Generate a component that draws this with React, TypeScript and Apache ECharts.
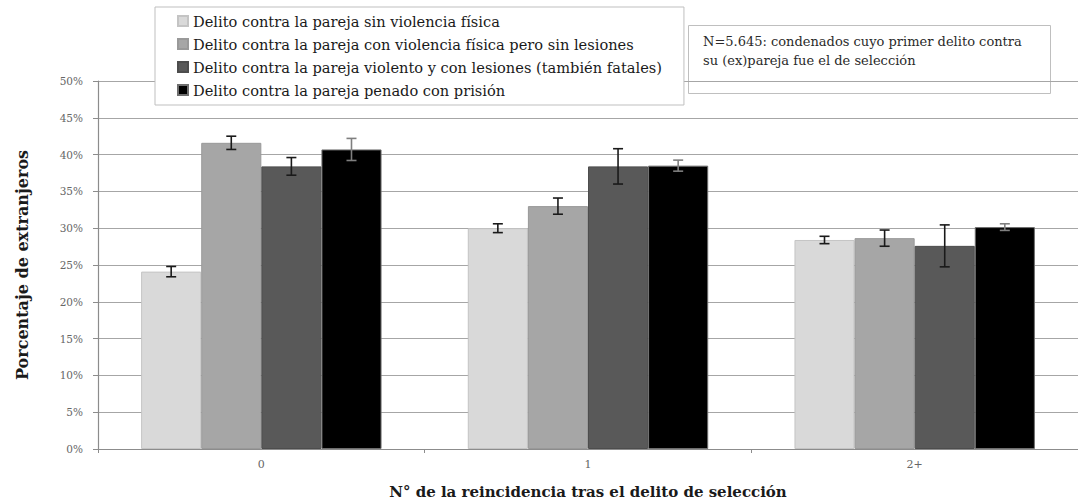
import React, { useEffect, useRef } from "react";
import * as echarts from "echarts";

// Categories: number of reoffences after the selection offence
const categories = ["0", "1", "2+"];

const seriesNames = [
  "Delito contra la pareja sin violencia física",
  "Delito contra la pareja con violencia física pero sin lesiones",
  "Delito contra la pareja violento y con lesiones (también fatales)",
  "Delito contra la pareja penado con prisión",
];

// Percentage of foreigners per group (%)
const sinViolencia = [24.1, 30.0, 28.4];
const conViolencia = [41.6, 33.0, 28.65];
const conLesiones = [38.4, 38.4, 27.6];
const conPrision = [40.7, 38.5, 30.15];

// Half-width of the error bars (percentage points)
const errSinViolencia = [0.7, 0.6, 0.5];
const errConViolencia = [0.9, 1.1, 1.1];
const errConLesiones = [1.2, 2.4, 2.85];
const errConPrision = [1.5, 0.75, 0.45];

const yTicks = [0, 5, 10, 15, 20, 25, 30, 35, 40, 45, 50];

const noteLines = [
  "N=5.645: condenados cuyo primer delito contra",
  "su (ex)pareja fue el de selección",
];

const values = [sinViolencia, conViolencia, conLesiones, conPrision];
const errors = [errSinViolencia, errConViolencia, errConLesiones, errConPrision];
const fills = ["#d9d9d9", "#a6a6a6", "#595959", "#000000"];
const borders = ["#c4c4c4", "#999999", "#4d4d4d", "#6e6e6e"];
const errColors = ["#1a1a1a", "#1a1a1a", "#1a1a1a", "#7f7f7f"];
const CATEGORY_GAP = 0.264;
const SERIF = "'DejaVu Serif', 'Liberation Serif', serif";

export default function App() {
  const ref = useRef<HTMLDivElement>(null);

  useEffect(() => {
    if (!ref.current) return;
    const chart = echarts.init(ref.current, undefined, { renderer: "svg" });

    const barSeries = values.map((vals, i) => ({
      type: "bar",
      name: seriesNames[i],
      data: vals,
      barGap: "0%",
      barCategoryGap: `${CATEGORY_GAP * 100}%`,
      itemStyle: { color: fills[i], borderColor: borders[i], borderWidth: 1 },
      z: 2,
    }));

    // Error bars drawn on top of each bar through the axis scales
    const errorSeries = values.map((vals, i) => ({
      type: "custom",
      name: `err-${i}`,
      z: 5,
      silent: true,
      data: vals.map((v, c) => [c, v, errors[i][c]]),
      renderItem: (params: any, api: any) => {
        const cat = api.value(0);
        const v = api.value(1);
        const e = api.value(2);
        const band = api.size([1, 0])[0];
        const groupW = band * (1 - CATEGORY_GAP);
        const barW = groupW / values.length;
        const center = api.coord([cat, v]);
        const x = center[0] - groupW / 2 + barW * (i + 0.5);
        const yTop = api.coord([cat, v + e])[1];
        const yBot = api.coord([cat, v - e])[1];
        const cap = 5;
        const style = { stroke: errColors[i], lineWidth: 1.6 };
        return {
          type: "group",
          children: [
            { type: "line", shape: { x1: x, y1: yTop, x2: x, y2: yBot }, style },
            { type: "line", shape: { x1: x - cap, y1: yTop, x2: x + cap, y2: yTop }, style },
            { type: "line", shape: { x1: x - cap, y1: yBot, x2: x + cap, y2: yBot }, style },
          ],
        };
      },
    }));

    chart.setOption({
      animation: false,
      backgroundColor: "#ffffff",
      grid: { left: 98, top: 81, width: 987, height: 371 },
      legend: {
        data: seriesNames,
        orient: "vertical",
        left: 155,
        top: 7,
        itemWidth: 10,
        itemHeight: 10,
        itemGap: 7,
        icon: "rect",
        padding: [6, 22, 7, 22],
        borderColor: "#bfbfbf",
        borderWidth: 1,
        backgroundColor: "#ffffff",
        textStyle: { fontFamily: SERIF, fontSize: 14.6, color: "#1a1a1a", lineHeight: 16 },
        z: 10,
      },
      xAxis: {
        type: "category",
        data: categories,
        name: "N° de la reincidencia tras el delito de selección",
        nameLocation: "middle",
        nameGap: 35,
        nameTextStyle: { fontFamily: SERIF, fontSize: 15, fontWeight: "bold", color: "#1a1a1a" },
        axisLine: { lineStyle: { color: "#8c8c8c", width: 1.2 } },
        axisTick: { show: true, length: 4, lineStyle: { color: "#8c8c8c" } },
        axisLabel: { fontFamily: SERIF, fontSize: 11, color: "#666666", margin: 10 },
      },
      yAxis: {
        type: "value",
        min: yTicks[0],
        max: yTicks[yTicks.length - 1],
        interval: 5,
        name: "Porcentaje de extranjeros",
        nameLocation: "middle",
        nameRotate: 90,
        nameGap: 68,
        nameTextStyle: { fontFamily: SERIF, fontSize: 16, fontWeight: "bold", color: "#1a1a1a" },
        axisLine: { show: true, lineStyle: { color: "#8c8c8c", width: 1.2 } },
        axisTick: { show: true, length: 5, lineStyle: { color: "#8c8c8c" } },
        axisLabel: {
          fontFamily: SERIF,
          fontSize: 10.5,
          color: "#666666",
          margin: 15,
          formatter: (v: number) => `${v}%`,
        },
        splitLine: { lineStyle: { color: "#a6a6a6", width: 1.2 } },
      },
      graphic: [
        {
          type: "group",
          z: 100,
          children: [
            {
              type: "rect",
              shape: { x: 688.5, y: 25.5, width: 362, height: 68 },
              style: { fill: "#ffffff", stroke: "#bfbfbf", lineWidth: 1 },
            },
            {
              type: "text",
              x: 703,
              y: 32,
              style: {
                text: noteLines.join("\n"),
                font: `13px 'DejaVu Serif', serif`,
                fill: "#2a2a2a",
                lineHeight: 19,
              },
            },
          ],
        },
      ],
      series: [...barSeries, ...errorSeries],
    });

    return () => chart.dispose();
  }, []);

  return <div ref={ref} style={{ width: 1078, height: 504, position: "absolute", left: 0, top: 0 }} />;
}
